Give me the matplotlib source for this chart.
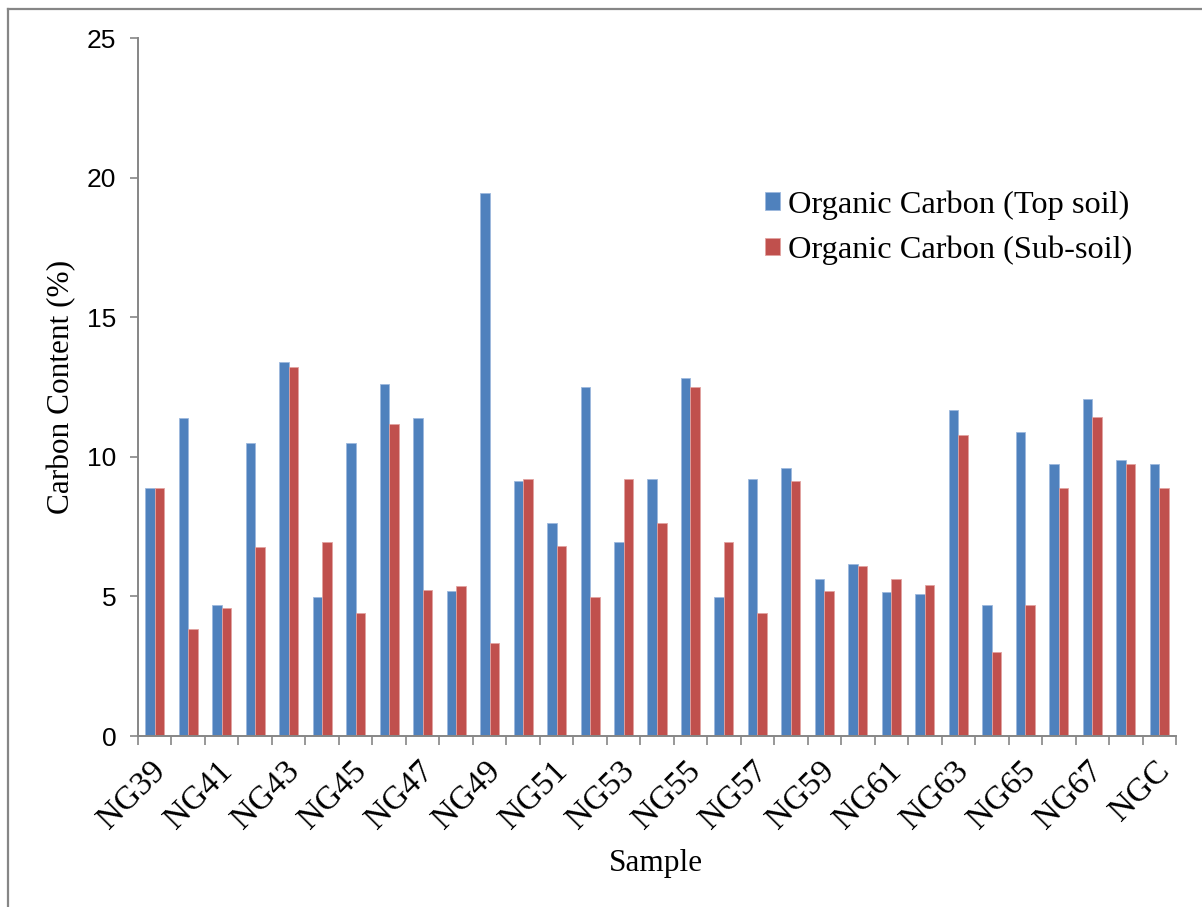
import matplotlib.pyplot as plt
import numpy as np
from matplotlib.lines import Line2D
from matplotlib.transforms import ScaledTranslation

# sample names NG39..NG68 then the control
samples = ["NG%d" % n for n in range(39, 69)] + ["NGC"]

top_soil = [8.90, 11.40, 4.70, 10.48, 13.39, 4.98, 10.48, 12.61, 11.38, 5.20,
            19.45, 9.15, 7.62, 12.51, 6.94, 9.20, 12.84, 4.98, 9.20, 9.59,
            5.63, 6.15, 5.15, 5.07, 11.66, 4.70, 10.90, 9.73, 12.06, 9.89, 9.73]
sub_soil = [8.90, 3.85, 4.57, 6.77, 13.21, 6.94, 4.40, 11.16, 5.22, 5.37,
            3.32, 9.20, 6.82, 4.98, 9.20, 7.62, 12.51, 6.94, 4.40, 9.15,
            5.20, 6.08, 5.63, 5.42, 10.77, 3.00, 4.70, 8.90, 11.41, 9.73, 8.90]

yticks = [0, 5, 10, 15, 20, 25]

serif = "Liberation Serif"
narrow = ["Liberation Sans Narrow", "Liberation Sans"]
axis_grey = "#868686"

fig = plt.figure(figsize=(12.02, 9.07), dpi=100)
ax = fig.add_axes([138 / 1202, 1 - 736 / 907, (1176 - 138) / 1202, (736 - 38) / 907])

x = np.arange(len(samples))
w = 0.284
ax.bar(x - w / 2, top_soil, w, color="#4F81BD", edgecolor="#9DB9DE", linewidth=0.6,
       label="Organic Carbon (Top soil)")
ax.bar(x + w / 2, sub_soil, w, color="#C0504D", edgecolor="#E2A3A1", linewidth=0.6,
       label="Organic Carbon (Sub-soil)")

ax.set_xlim(-0.5, len(samples) - 0.5)
ax.set_ylim(0, 25)

for s in ["top", "right"]:
    ax.spines[s].set_visible(False)
for s in ["left", "bottom"]:
    ax.spines[s].set_color(axis_grey)
    ax.spines[s].set_linewidth(1.4)

ax.set_yticks(yticks)
ax.set_yticklabels([str(v) for v in yticks], family=narrow, fontsize=19)
ax.tick_params(axis="y", direction="out", length=5.5, width=1.2, color=axis_grey, pad=10)

# boundary ticks between categories, labels on every other category
ax.set_xticks(np.arange(-0.5, len(samples)), minor=True)
ax.set_xticks(x[::2])
ax.set_xticklabels(samples[::2], family=serif, fontsize=24, rotation=45,
                   ha="right", va="top", rotation_mode="anchor")
ax.tick_params(axis="x", which="major", length=0, pad=14)
ax.tick_params(axis="x", which="minor", direction="out", length=6.5, width=1.2, color=axis_grey)
shift = ScaledTranslation(-0.05, 0, fig.dpi_scale_trans)
for lab in ax.get_xticklabels():
    lab.set_transform(lab.get_transform() + shift)

fig.text(62 / 1202, 1 - 387 / 907, "Carbon Content (%)", family=serif, fontsize=22.5,
         rotation=90, ha="center", va="center")
fig.text(656 / 1202, 1 - 864 / 907, "Sample", family=serif, fontsize=22.5,
         ha="center", va="center")

ax.legend(loc="upper left", bbox_to_anchor=(765 / 1202, 1 - 190 / 907),
          bbox_transform=fig.transFigure, frameon=False, borderpad=0,
          borderaxespad=0, handlelength=0.45, handleheight=0.45,
          handletextpad=0.25, labelspacing=0.5, prop={"family": serif, "size": 23.3})

# chart border (only top and left edges fall inside the picture)
fig.add_artist(Line2D([8 / 1202, 1], [1 - 8.5 / 907, 1 - 8.5 / 907],
                      transform=fig.transFigure, color=axis_grey, lw=1.6))
fig.add_artist(Line2D([8 / 1202, 8 / 1202], [0, 1 - 8.5 / 907],
                      transform=fig.transFigure, color=axis_grey, lw=1.6))

fig.savefig("out.png", dpi=100)
